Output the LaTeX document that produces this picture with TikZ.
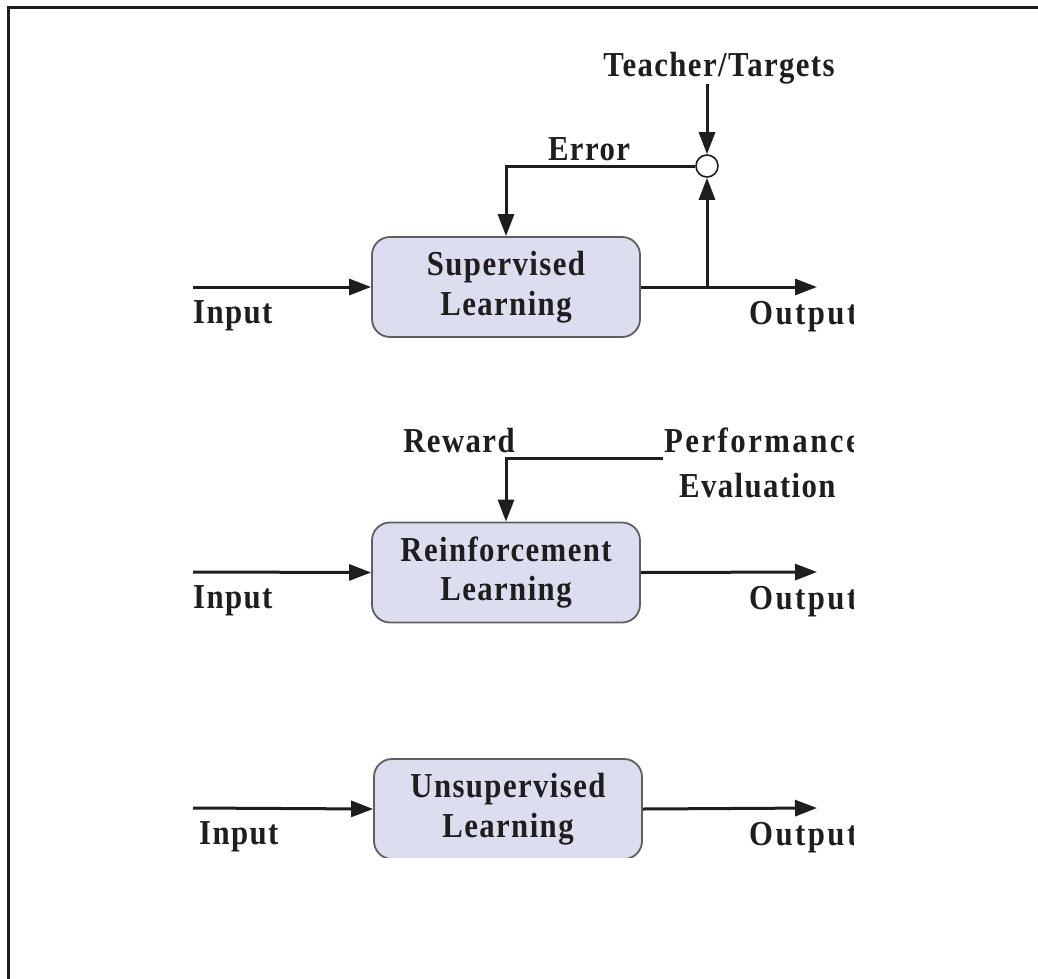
\documentclass[tikz,border=0pt]{standalone}
\usepackage{fontspec}
\setmainfont{Liberation Serif}[FakeStretch=0.88, LetterSpace=4]
\usetikzlibrary{arrows.meta}
\definecolor{boxfill}{RGB}{221,221,240}
\definecolor{boxline}{RGB}{95,95,95}
\definecolor{ink}{RGB}{30,30,30}
\begin{document}
\begin{tikzpicture}[x=1pt,y=-1pt,
  lbl/.style={font=\bfseries\fontsize{35}{40}\selectfont, text=ink, inner sep=0pt},
  widelbl/.style={lbl, font=\bfseries\fontsize{35}{40}\selectfont\addfontfeature{LetterSpace=7}},
  learnbox/.style={draw=boxline, line width=1.8pt, fill=boxfill, rounded corners=18pt,
    minimum width=268pt, minimum height=100pt, align=center, inner sep=0pt,
    font=\bfseries\fontsize{35}{39.5}\selectfont, text=ink},
  conn/.style={draw=ink, line width=3pt},
  arr/.style={conn, -{Triangle[length=22pt,width=16pt]}},
  sumnode/.style={circle, draw=ink, line width=1.6pt, fill=white, minimum size=22pt, inner sep=0pt}
]
\useasboundingbox (0,0) rectangle (1038,979);
\fill[white] (0,0) rectangle (1038,979);
\draw[line width=2.2pt, ink] (8.5,979) -- (8.5,7.5) -- (1038,7.5);

\begin{scope}
\clip (150,20) rectangle (853,857);
% Supervised
\node[learnbox] (sup) at (506,287) {Supervised\\Learning};
\coordinate (in1) at (193,287);
\coordinate (out1) at (817,287);
\coordinate (j1) at (707,287);
\draw[arr] (in1) -- (sup.west);
\draw[arr] (sup.east) -- (out1);
\node[sumnode] (sum) at (707,166) {};
\draw[arr] (j1) -- (sum.south);
\coordinate (t0) at (707,84);
\draw[arr] (t0) -- (sum.north);
\draw[arr] (sum.west) -| (sup.north);
\node[lbl, anchor=base] (teach) at (719,77) {Teacher/Targets};
\node[lbl, anchor=base] (err) at (589,160) {Error};
\node[lbl, anchor=base west] (inl1) at (193,323) {Input};
\node[widelbl, anchor=base west] (outl1) at (749,324) {Output};

% Reinforcement
\node[learnbox] (rl) at (506,572.5) {Reinforcement\\Learning};
\coordinate (in2) at (193,572);
\coordinate (out2) at (817,572);
\draw[arr] (in2) -- (rl.west);
\draw[arr] (rl.east) -- (out2);
\coordinate (pe) at (663,458);
\draw[arr] (pe) -| (rl.north);
\node[lbl, anchor=base] (rew) at (459,452) {Reward};
\node[widelbl, anchor=base west] (perf) at (664,452) {Performance};
\node[lbl, anchor=base west] (eval) at (679,497) {Evaluation};
\node[lbl, anchor=base west] (inl2) at (193,608) {Input};
\node[widelbl, anchor=base west] (outl2) at (749,609) {Output};

% Unsupervised
\node[learnbox] (ul) at (508,809) {Unsupervised\\Learning};
\coordinate (in3) at (193,808);
\coordinate (out3) at (817,808);
\draw[arr] (in3) -- (ul.west);
\draw[arr] (ul.east) -- (out3);
\node[lbl, anchor=base west] (inl3) at (199,844) {Input};
\node[widelbl, anchor=base west] (outl3) at (749,845) {Output};
\end{scope}
\end{tikzpicture}
\end{document}
